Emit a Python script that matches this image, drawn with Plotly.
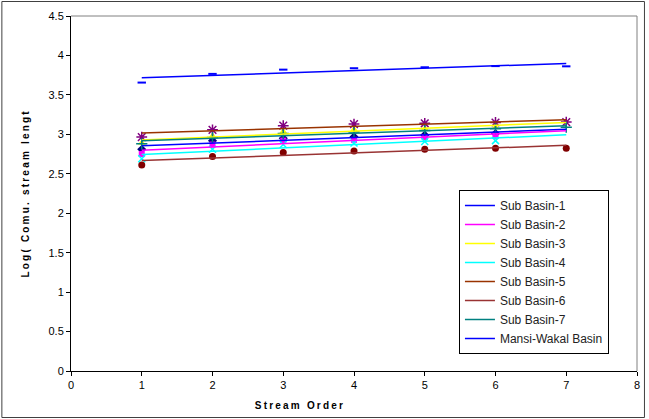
import numpy as np
import plotly.graph_objects as go

stream_order = [1, 2, 3, 4, 5, 6, 7]

sub_basin_1 = [2.81, 2.92, 2.95, 2.97, 2.99, 3.01, None]
sub_basin_2 = [2.75, 2.87, 2.92, 2.93, 2.965, 2.98, None]
sub_basin_3 = [2.89, 2.98, 3.035, 3.06, 3.07, 3.09, None]
sub_basin_4 = [2.69, 2.81, 2.87, 2.89, 2.91, 2.92, None]
sub_basin_5 = [2.965, 3.057, 3.11, 3.13, 3.14, 3.15, 3.155]
sub_basin_6 = [2.61, 2.72, 2.77, 2.79, 2.81, 2.825, 2.825]
sub_basin_7 = [2.88, 2.96, 3.01, 3.03, 3.05, 3.07, 3.09]
mansi_wakal = [3.656, 3.766, 3.82, 3.838, 3.85, 3.865, 3.862]

series_names = ["Sub Basin-1", "Sub Basin-2", "Sub Basin-3", "Sub Basin-4",
                "Sub Basin-5", "Sub Basin-6", "Sub Basin-7", "Mansi-Wakal Basin"]
series_values = [sub_basin_1, sub_basin_2, sub_basin_3, sub_basin_4,
                 sub_basin_5, sub_basin_6, sub_basin_7, mansi_wakal]

x_title = "Stream Order"
y_title = "Log( Comu. stream lengt"

marker_styles = [
    dict(symbol="diamond", color="#000080", size=7),
    dict(symbol="square", color="#FF00FF", size=6),
    dict(symbol="triangle-up", color="#FFFF00", size=7),
    dict(symbol="x-thin-open", color="#00FFFF", size=7, line=dict(color="#00FFFF", width=1.5)),
    dict(symbol="asterisk-open", color="#800080", size=9, line=dict(color="#800080", width=1.5)),
    dict(symbol="circle", color="#800000", size=7),
    dict(symbol="cross-thin-open", color="#008080", size=8, line=dict(color="#008080", width=1.5)),
    dict(symbol="line-ew-open", color="#0000FF", size=6, line=dict(color="#0000FF", width=2)),
]
trend_colors = ["#0000FF", "#FF00FF", "#FFFF00", "#00FFFF",
                "#993300", "#993333", "#008080", "#0000FF"]

fig = go.Figure()

for vals, ms in zip(series_values, marker_styles):
    fig.add_trace(go.Scatter(x=stream_order, y=vals, mode="markers",
                             marker=ms, showlegend=False, hoverinfo="skip"))

x_ends = [min(stream_order), max(stream_order)]
for name, vals, col in zip(series_names, series_values, trend_colors):
    xs = np.array([x for x, v in zip(stream_order, vals) if v is not None], float)
    ys = np.array([v for v in vals if v is not None], float)
    slope, intercept = np.polyfit(xs, ys, 1)
    fig.add_trace(go.Scatter(x=x_ends, y=[slope * x + intercept for x in x_ends],
                             mode="lines", name=name,
                             line=dict(color=col, width=1.5)))

W, H = 649, 419
L, R, T, B = 71, 9, 16, 48
pw, ph = W - L - R, H - T - B


def px_x(p):
    return (p - L) / pw


def px_y(p):
    return (H - B - p) / ph


font_family = "Liberation Sans, Arial, sans-serif"

fig.update_layout(
    width=W, height=H, autosize=False,
    margin=dict(l=L, r=R, t=T, b=B, pad=0),
    paper_bgcolor="white", plot_bgcolor="white",
    font=dict(family=font_family, size=11, color="black"),
    xaxis=dict(range=[0, 8], dtick=1, tick0=0, showgrid=False, zeroline=False,
               showline=True, linecolor="black", linewidth=1,
               ticks="outside", ticklen=4, tickcolor="black",
               tickfont=dict(size=11)),
    yaxis=dict(range=[0, 4.5], dtick=0.5, tick0=0, showgrid=False, zeroline=False,
               showline=True, linecolor="black", linewidth=1,
               ticks="outside", ticklen=4, tickcolor="black",
               tickfont=dict(size=11)),
    legend=dict(x=px_x(461), y=px_y(190), xanchor="left", yanchor="top",
                bordercolor="black", borderwidth=1, bgcolor="white",
                font=dict(size=12, family=font_family, color="#222222"),
                tracegroupgap=0, itemwidth=30),
    annotations=[
        dict(text="<b>" + x_title + "</b>", xref="paper", yref="paper",
             x=px_x(301), y=px_y(405), xanchor="center", yanchor="middle",
             showarrow=False, font=dict(size=10, family=font_family)),
        dict(text="<b>" + y_title + "</b>", xref="paper", yref="paper",
             x=px_x(25), y=px_y(193), xanchor="center", yanchor="middle",
             textangle=-90, showarrow=False, font=dict(size=10, family=font_family)),
    ],
    shapes=[
        dict(type="line", xref="paper", yref="paper", x0=0, x1=1, y0=1, y1=1,
             line=dict(color="#808080", width=1)),
        dict(type="line", xref="paper", yref="paper", x0=1, x1=1, y0=0, y1=1,
             line=dict(color="#808080", width=1)),
        dict(type="rect", xref="paper", yref="paper",
             x0=px_x(1.5), x1=px_x(647.5), y0=px_y(417.5), y1=px_y(1.5),
             line=dict(color="#404040", width=1)),
    ],
)

post = ("document.body.style.margin='0';"
        "document.querySelectorAll('.annotation-text').forEach(function(e){"
        "e.style.letterSpacing='2.2px';});")

fig.write_html("out.html", post_script=post, config={"displayModeBar": False})
